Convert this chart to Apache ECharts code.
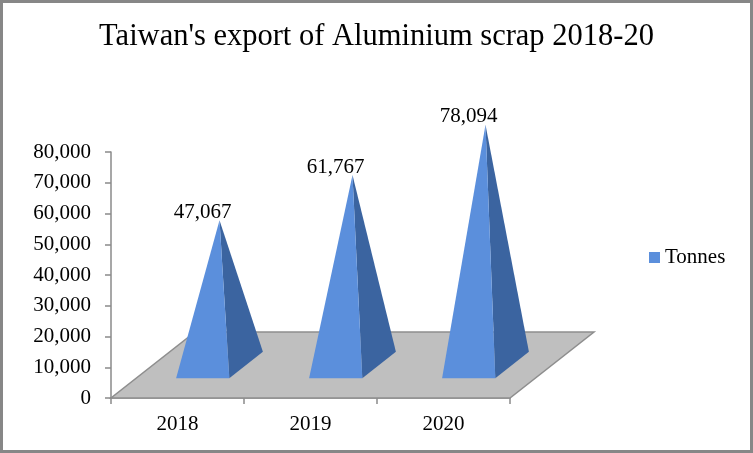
<!DOCTYPE html>
<html>
<head>
<meta charset="utf-8">
<script src="https://cdn.jsdelivr.net/npm/echarts@6/dist/echarts.min.js"></script>
<style>
  html, body { margin: 0; padding: 0; background: #fff; }
  #main { width: 753px; height: 453px; }
</style>
</head>
<body>
<div id="main"></div>
<script>
// data
var years = ['2018', '2019', '2020'];
var tonnes = [47067, 61767, 78094];
var yTicks = [0, 10000, 20000, 30000, 40000, 50000, 60000, 70000, 80000];

// fake 3d depth of the floor (pixels)
var depthX = 84, depthY = -66;
var SERIF = '"Liberation Serif", "DejaVu Serif", serif';

function fmt(v) {
  return v.toString().replace(/\B(?=(\d{3})+(?!\d))/g, ',');
}

function renderFloor(params, api) {
  var band = api.size([1, 0])[0];
  var p0 = api.coord([0, 0]);
  var p1 = api.coord([years.length - 1, 0]);
  var xl = p0[0] - band / 2, xr = p1[0] + band / 2, y = p0[1];
  return {
    type: 'polygon',
    shape: { points: [[xl, y], [xr, y], [xr + depthX, y + depthY], [xl + depthX, y + depthY]] },
    style: { fill: '#bfbfbf', stroke: '#8e8e8e', lineWidth: 1.5 }
  };
}

function renderPyramid(params, api) {
  var idx = api.value(0);
  var val = api.value(1);
  var band = api.size([1, 0])[0];
  var base = api.coord([idx, 0]);
  var top = api.coord([idx, val]);
  var w = band * 0.2;
  var cx = base[0], by = base[1];
  var f = 0.3, b = 0.7;
  var fl = [cx - w + f * depthX, by + f * depthY];
  var fr = [cx + w + f * depthX, by + f * depthY];
  var br = [cx + w + b * depthX, by + b * depthY];
  var apex = [top[0] + 0.5 * depthX, top[1] + 0.5 * depthY];
  return {
    type: 'group',
    children: [
      { type: 'polygon', shape: { points: [fr, br, apex] }, style: { fill: '#3b64a0' } },
      { type: 'polygon', shape: { points: [fl, fr, apex] }, style: { fill: '#5b8fdc' } },
      {
        type: 'text',
        style: {
          text: fmt(val), x: cx + f * depthX, y: apex[1] - 8,
          align: 'center', verticalAlign: 'middle',
          fill: '#000', font: '21px ' + SERIF
        }
      }
    ]
  };
}

var chart = echarts.init(document.getElementById('main'));

var option = {
  backgroundColor: '#fff',
  animation: false,
  title: {
    text: "Taiwan's export of Aluminium scrap 2018-20",
    left: 'center',
    top: 16,
    textStyle: { fontFamily: SERIF, fontSize: 30.5, fontWeight: 'normal', color: '#000' }
  },
  legend: {
    data: ['Tonnes'],
    left: 644,
    top: 242,
    icon: 'rect',
    itemWidth: 11,
    itemHeight: 11,
    itemGap: 5,
    textStyle: { fontFamily: SERIF, fontSize: 21, color: '#000' }
  },
  grid: { left: 111, right: 243, top: 152, bottom: 55 },
  xAxis: {
    type: 'category',
    data: years,
    axisLine: { lineStyle: { color: '#8a8a8a', width: 1.5 } },
    axisTick: { show: true, length: 6, lineStyle: { color: '#8a8a8a', width: 1.5 } },
    axisLabel: { margin: 16, fontFamily: SERIF, fontSize: 21, color: '#000' }
  },
  yAxis: {
    type: 'value',
    min: yTicks[0],
    max: yTicks[yTicks.length - 1],
    interval: yTicks[1] - yTicks[0],
    axisLine: { show: true, lineStyle: { color: '#8a8a8a', width: 1.5 } },
    axisTick: { show: true, length: 6, lineStyle: { color: '#8a8a8a', width: 1.5 } },
    splitLine: { show: false },
    axisLabel: { margin: 20, fontFamily: SERIF, fontSize: 21, color: '#000', formatter: fmt }
  },
  graphic: [{
    type: 'rect',
    shape: { x: 1.5, y: 1.5, width: 750, height: 450 },
    style: { fill: 'none', stroke: '#878787', lineWidth: 3 },
    silent: true
  }],
  series: [
    {
      name: 'floor',
      type: 'custom',
      renderItem: renderFloor,
      data: [[0, 0]],
      silent: true,
      z: 1
    },
    {
      name: 'Tonnes',
      type: 'custom',
      itemStyle: { color: '#5b8fdc' },
      clip: false,
      renderItem: renderPyramid,
      encode: { x: 0, y: 1 },
      data: years.map(function (y, i) { return [i, tonnes[i]]; }),
      z: 2
    }
  ]
};

chart.setOption(option);
</script>
</body>
</html>
